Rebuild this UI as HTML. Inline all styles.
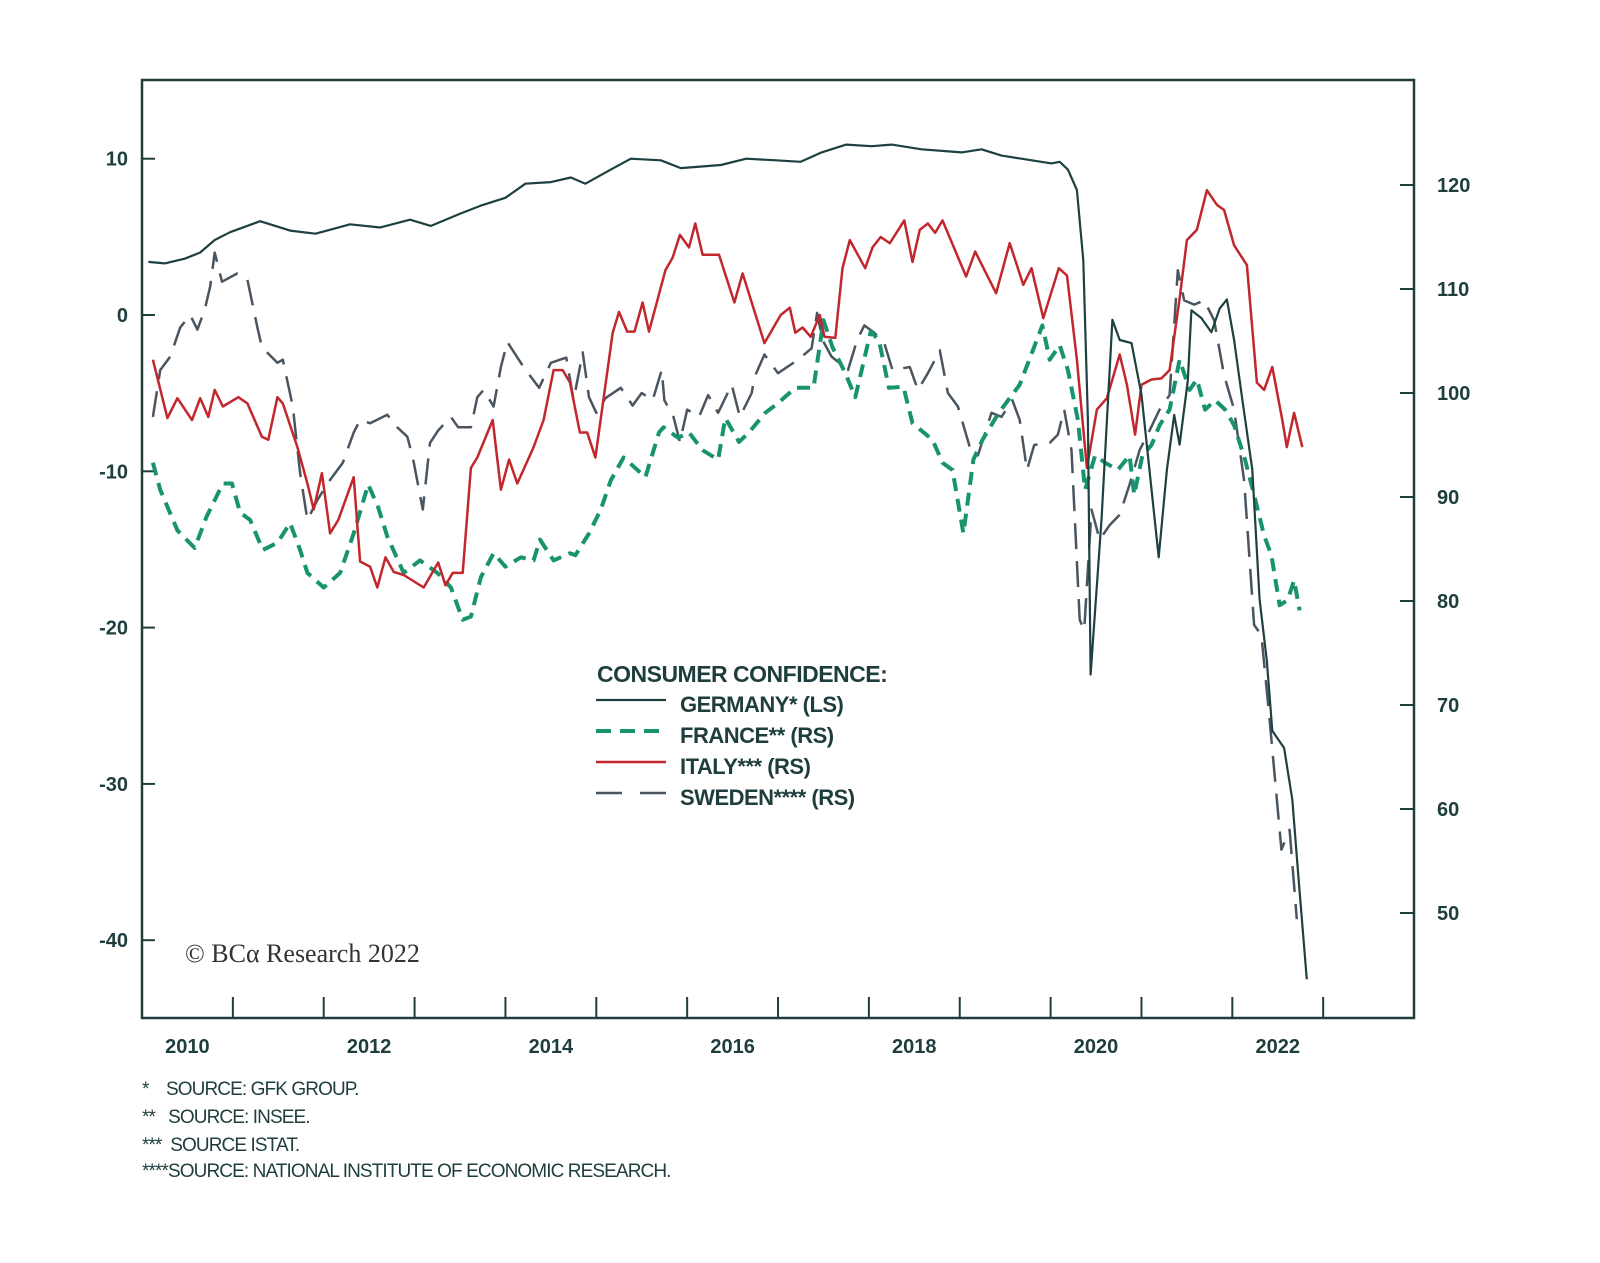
<!DOCTYPE html>
<html><head><meta charset="utf-8"><style>
html,body{margin:0;padding:0;background:#fff;}
svg{display:block;}
</style></head><body>
<svg id="chart" width="1600" height="1263" viewBox="0 0 1600 1263" xmlns="http://www.w3.org/2000/svg" font-family="'Liberation Sans',sans-serif">
<rect x="0" y="0" width="1600" height="1263" fill="#ffffff"/>
<g id="axes"></g>
<g id="series"></g>
<rect x="142" y="80" width="1272" height="938" fill="none" stroke="#1e3d3d" stroke-width="2.5"/>
<g font-weight="bold" fill="#1e3d3d" font-size="22" letter-spacing="-0.5">
<text x="597" y="682" font-size="23">CONSUMER CONFIDENCE:</text>
<line x1="596" y1="700" x2="666" y2="700" stroke="#1d4040" stroke-width="2.2"/>
<text x="680" y="712">GERMANY* (LS)</text>
<line x1="596" y1="731" x2="666" y2="731" stroke="#17946e" stroke-width="4" stroke-dasharray="15,9"/>
<text x="680" y="743">FRANCE** (RS)</text>
<line x1="596" y1="762" x2="666" y2="762" stroke="#c1272d" stroke-width="2.5"/>
<text x="680" y="774">ITALY*** (RS)</text>
<line x1="596" y1="793" x2="666" y2="793" stroke="#4a5560" stroke-width="2.5" stroke-dasharray="26,18"/>
<text x="680" y="805">SWEDEN**** (RS)</text>
</g>
<text x="185" y="962" style="font-family:'Liberation Serif',serif" font-size="26" fill="#333">© BCα Research 2022</text>
<g font-size="19" fill="#1e3d3d" letter-spacing="-0.9">
<text x="142" y="1095">*&#160;&#160;&#160;&#160;SOURCE: GFK GROUP.</text>
<text x="142" y="1123">**&#160;&#160;&#160;SOURCE: INSEE.</text>
<text x="142" y="1151">***&#160;&#160;SOURCE ISTAT.</text>
<text x="142" y="1177">****SOURCE: NATIONAL INSTITUTE OF ECONOMIC RESEARCH.</text>
</g>
</svg>
<script>
const xYearLabels = ["2010","2012","2014","2016","2018","2020","2022"];
const leftTicks = [10,0,-10,-20,-30,-40];
const rightTicks = [120,110,100,90,80,70,60,50];

const germanyT = [0.07,0.25,0.47,0.64,0.80,0.97,1.30,1.63,1.91,2.29,2.62,2.95,3.18,3.51,3.73,4.00,4.22,4.50,4.72,4.88,5.16,5.38,5.71,5.93,6.37,6.65,6.98,7.25,7.48,7.75,8.03,8.25,8.58,9.02,9.24,9.46,9.68,10.01,10.10,10.19,10.29,10.36,10.41,10.44,10.56,10.68,10.76,10.89,11.00,11.19,11.28,11.36,11.42,11.51,11.55,11.66,11.77,11.86,11.94,12.02,12.11,12.22,12.30,12.38,12.44,12.57,12.66,12.73,12.82];
const germanyV = [3.4,3.3,3.6,4.0,4.8,5.3,6.0,5.4,5.2,5.8,5.6,6.1,5.7,6.5,7.0,7.5,8.4,8.5,8.8,8.4,9.3,10.0,9.9,9.4,9.6,10.0,9.9,9.8,10.4,10.9,10.8,10.9,10.6,10.4,10.6,10.2,10.0,9.7,9.8,9.3,8.0,3.5,-6.7,-23.0,-13.1,-0.3,-1.6,-1.8,-5.1,-15.5,-9.9,-6.4,-8.3,-4.2,0.3,-0.2,-1.1,0.4,1.0,-1.6,-5.4,-9.9,-18.2,-22.1,-26.6,-27.7,-31.0,-36.1,-42.5];

const franceT = [0.12,0.20,0.39,0.58,0.71,0.89,0.99,1.08,1.19,1.33,1.49,1.63,1.74,1.82,2.00,2.18,2.33,2.49,2.60,2.70,2.88,3.06,3.25,3.40,3.53,3.62,3.73,3.87,4.00,4.17,4.31,4.38,4.53,4.71,4.77,4.92,5.05,5.16,5.30,5.54,5.69,5.74,5.90,6.02,6.17,6.34,6.42,6.57,6.68,6.86,7.01,7.19,7.39,7.50,7.60,7.74,7.85,8.02,8.11,8.22,8.38,8.48,8.70,8.81,8.92,9.04,9.15,9.25,9.43,9.66,9.91,9.99,10.10,10.19,10.30,10.38,10.49,10.60,10.74,10.87,10.92,11.01,11.11,11.20,11.31,11.42,11.53,11.61,11.70,11.81,11.92,12.02,12.14,12.24,12.35,12.43,12.52,12.61,12.68,12.74];
const franceV = [93.3,90.7,86.8,85.1,88.1,91.3,91.3,88.5,87.8,84.9,85.6,87.5,84.9,82.7,81.3,82.7,86.5,91.2,89.0,86.2,82.7,83.9,82.7,81.3,78.2,78.5,82.3,84.6,83.3,84.2,83.9,85.9,83.9,84.6,84.4,86.5,88.8,91.6,93.8,91.9,96.2,96.7,95.7,96.2,94.5,93.6,97.6,95.3,96.2,98.1,99.1,100.5,100.5,107.0,104.4,101.9,99.6,105.9,105.1,100.5,100.6,97.1,95.5,93.3,92.6,86.5,93.6,95.5,98.1,100.8,106.5,103.2,104.6,102.2,97.4,90.7,94.0,93.3,92.6,94.0,90.2,94.0,95.0,96.9,98.4,103.2,100.3,101.3,98.4,99.3,98.4,96.9,93.6,90.2,86.3,84.4,79.6,80.1,82.0,79.1];

const italyT = [0.12,0.28,0.39,0.55,0.64,0.73,0.80,0.89,1.06,1.16,1.32,1.39,1.49,1.55,1.71,1.82,1.89,1.98,2.07,2.16,2.33,2.40,2.51,2.59,2.68,2.77,2.88,3.10,3.26,3.34,3.42,3.53,3.62,3.69,3.86,3.95,4.04,4.13,4.31,4.42,4.53,4.63,4.71,4.82,4.90,4.99,5.18,5.25,5.34,5.42,5.51,5.58,5.76,5.84,5.92,6.02,6.09,6.17,6.35,6.52,6.61,6.85,7.03,7.13,7.19,7.27,7.36,7.46,7.51,7.63,7.71,7.79,7.96,8.04,8.13,8.23,8.39,8.48,8.56,8.65,8.73,8.81,9.07,9.17,9.40,9.55,9.70,9.79,9.92,10.09,10.18,10.29,10.40,10.51,10.62,10.76,10.84,10.93,11.00,11.11,11.22,11.31,11.42,11.50,11.61,11.72,11.83,11.91,12.02,12.16,12.27,12.35,12.44,12.55,12.60,12.68,12.77];
const italyV = [103.2,97.6,99.5,97.4,99.5,97.7,100.3,98.7,99.6,99.0,95.8,95.5,99.6,99.0,94.8,91.3,88.8,92.3,86.5,87.8,91.9,83.8,83.3,81.3,84.2,82.8,82.5,81.3,83.7,81.5,82.7,82.7,92.8,93.8,97.4,90.7,93.6,91.3,94.8,97.4,102.2,102.2,101.0,96.2,96.2,93.8,105.8,107.8,105.9,105.9,108.7,105.9,111.8,113.0,115.2,114.0,116.3,113.3,113.3,108.7,111.5,104.8,107.5,108.2,105.8,106.3,105.4,107.5,105.4,105.3,112.0,114.7,112.0,114.0,115.0,114.4,116.6,112.6,115.7,116.3,115.4,116.6,111.2,113.6,109.6,114.4,110.4,112.0,107.2,112.0,111.3,103.2,92.8,98.4,99.5,103.7,100.8,96.0,100.8,101.3,101.4,102.2,109.1,114.7,115.7,119.5,118.1,117.6,114.2,112.3,101.0,100.3,102.5,97.4,94.8,98.1,94.8];

const swedenT = [0.12,0.20,0.31,0.42,0.53,0.61,0.69,0.75,0.80,0.88,1.05,1.16,1.27,1.32,1.49,1.55,1.66,1.74,1.82,1.93,2.04,2.21,2.33,2.40,2.51,2.70,2.81,2.92,2.98,3.09,3.17,3.26,3.40,3.48,3.62,3.69,3.76,3.87,3.95,4.02,4.20,4.37,4.50,4.67,4.75,4.85,4.92,5.00,5.10,5.27,5.40,5.50,5.62,5.72,5.75,5.85,5.92,6.00,6.13,6.23,6.34,6.49,6.58,6.71,6.74,6.85,7.00,7.22,7.37,7.43,7.49,7.59,7.77,7.87,7.95,8.06,8.17,8.26,8.45,8.54,8.65,8.78,8.87,8.98,9.13,9.20,9.35,9.46,9.58,9.66,9.74,9.82,9.99,10.08,10.15,10.23,10.32,10.37,10.45,10.54,10.65,10.76,10.87,10.98,11.09,11.20,11.31,11.40,11.47,11.58,11.69,11.80,11.91,12.02,12.13,12.24,12.32,12.41,12.54,12.63,12.71];
const swedenV = [97.7,102.2,103.5,106.3,107.5,106.1,108.0,110.2,113.5,110.7,111.5,110.9,106.3,104.4,102.9,103.2,98.7,92.3,87.8,89.7,91.3,93.3,96.2,97.4,97.1,97.9,96.7,95.8,93.8,88.8,95.2,96.4,97.7,96.7,96.7,99.6,100.3,98.7,102.5,104.9,102.5,100.5,102.9,103.4,99.3,103.9,99.6,98.1,99.5,100.5,98.8,100.0,99.3,102.2,99.3,97.7,95.3,98.4,97.7,99.8,98.1,100.8,97.7,100.0,101.5,103.7,101.9,103.2,104.3,107.7,105.1,103.5,102.2,105.1,106.5,105.8,104.8,102.2,102.5,100.3,101.9,104.1,100.0,98.7,94.2,94.0,98.1,97.7,99.3,97.4,92.6,95.0,95.2,96.0,98.4,94.5,78.2,77.2,88.8,85.9,87.3,88.3,91.2,94.5,96.4,98.4,99.8,111.8,108.9,108.5,108.9,107.0,101.7,98.4,91.6,77.7,76.7,68.6,56.1,58.0,49.4];

const NS = "http://www.w3.org/2000/svg";
const X0 = 142, YEARW = 90.86;
function xScale(t){ return X0 + t*YEARW; }
function yLeft(v){ return 315 - v*15.63; }
function yRight(v){ return 393 - (v-100)*10.4; }

const axes = document.getElementById('axes');
const series = document.getElementById('series');
function mk(tag, attrs, parent){ const e=document.createElementNS(NS,tag); for(const k in attrs) e.setAttribute(k,attrs[k]); parent.appendChild(e); return e; }

leftTicks.forEach(v=>{
  const y=yLeft(v);
  const tk=mk('line',{x1:142,y1:y,x2:155,y2:y,stroke:'#1e3d3d','stroke-width':2},axes);
  
  
  const tx=mk('text',{x:128,y:y+7,'text-anchor':'end','font-size':20,'font-weight':'bold',fill:'#1e3d3d'},axes);
  tx.textContent=String(v);
  
  
});
rightTicks.forEach(v=>{
  const y=yRight(v);
  const tk=mk('line',{x1:1400,y1:y,x2:1414,y2:y,stroke:'#1e3d3d','stroke-width':2},axes);
  
  
  const tx=mk('text',{x:1437,y:y+7,'font-size':20,'font-weight':'bold',fill:'#1e3d3d'},axes);
  tx.textContent=String(v);
  
  
});
for(let k=1;k<=13;k++){
  const x=xScale(k);
  const tk=mk('line',{x1:x,y1:997,x2:x,y2:1018,stroke:'#1e3d3d','stroke-width':2},axes);
  
  
}
xYearLabels.forEach(s=>{
  const t=Number(s)-2010+0.5;
  const tx=mk('text',{x:xScale(t),y:1053,'text-anchor':'middle','font-size':20,'font-weight':'bold',fill:'#1e3d3d'},axes);
  tx.textContent=s;
  
  
});

function drawLine(T,V,yf,style,name){
  let d='';
  T.forEach((t,i)=>{ d += (i?'L':'M')+xScale(t).toFixed(1)+','+yf(V[i]).toFixed(1); });
  const p=mk('path',Object.assign({d:d,fill:'none','stroke-linejoin':'round'},style),series);
  
  
}
drawLine(swedenT,swedenV,yRight,{stroke:'#4a5560','stroke-width':2.5,'stroke-dasharray':'26,12'},'sweden-line');
drawLine(franceT,franceV,yRight,{stroke:'#17946e','stroke-width':4,'stroke-dasharray':'13,8'},'france-line');
drawLine(italyT,italyV,yRight,{stroke:'#c1272d','stroke-width':2.5},'italy-line');
drawLine(germanyT,germanyV,yLeft,{stroke:'#1d4040','stroke-width':2.2},'germany-line');
</script>
</body></html>
